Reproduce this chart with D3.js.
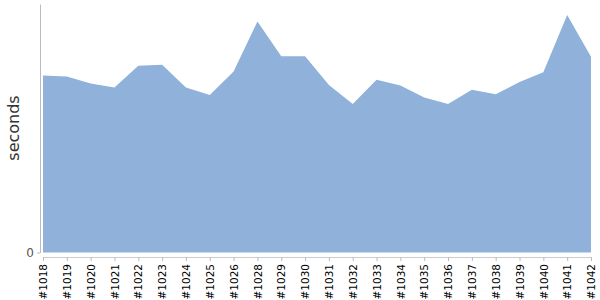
<!DOCTYPE html>
<html>
<head>
<meta charset="utf-8">
<script src="https://cdn.jsdelivr.net/npm/d3@7"></script>
<style>
  body { margin: 0; background: #fff; }
  svg text { font-family: "DejaVu Sans", Verdana, sans-serif; }
</style>
</head>
<body>
<div id="chart"></div>
<script>
var svgWidth = 600;
var svgHeight = 300;

// build labels along the x axis (#1027 is missing)
var builds = ["#1018", "#1019", "#1020", "#1021", "#1022", "#1023", "#1024", "#1025",
  "#1026", "#1028", "#1029", "#1030", "#1031", "#1032", "#1033", "#1034", "#1035",
  "#1036", "#1037", "#1038", "#1039", "#1040", "#1041", "#1042"];

// build duration
var seconds = [178, 177, 170, 166, 188, 189, 166, 158.5,
  182, 232.5, 197.5, 197.5, 168.5, 149.3, 173.7, 168, 156,
  149.3, 163.7, 159.3, 171.5, 181.3, 239, 197];

var yTicks = [0];

var margin = { top: 4, right: 9, bottom: 47.5, left: 43 };

var svg = d3.select("#chart")
  .append("svg")
  .attr("width", svgWidth)
  .attr("height", svgHeight);

var x = d3.scalePoint()
  .domain(builds)
  .range([margin.left, svgWidth - margin.right]);

var y = d3.scaleLinear()
  .domain([0, 250])
  .range([svgHeight - margin.bottom, margin.top]);

var data = builds.map((b, i) => ({ build: b, value: seconds[i] }));

// area
var area = d3.area()
  .x(d => x(d.build))
  .y0(y(0))
  .y1(d => y(d.value));

svg.append("path")
  .datum(data)
  .attr("d", area)
  .attr("fill", "#8fb1da");

// y axis
var yAxis = svg.append("g")
  .attr("transform", "translate(40,0)")
  .call(d3.axisLeft(y).tickValues(yTicks).tickSize(3).tickSizeOuter(0));

yAxis.select(".domain").attr("stroke", "#bbb");
yAxis.selectAll(".tick line").attr("stroke", "#bbb");
yAxis.selectAll(".tick text")
  .attr("x", -6)
  .attr("fill", "#555")
  .style("font-size", "12px");

// x axis
var xAxis = svg.append("g")
  .attr("transform", "translate(0,257)")
  .call(d3.axisBottom(x).tickSize(4).tickSizeOuter(0));

xAxis.select(".domain").attr("stroke", "#ccc");
xAxis.selectAll(".tick line").attr("stroke", "#bbb");
xAxis.selectAll(".tick text")
  .attr("transform", "rotate(-90)")
  .attr("x", -7)
  .attr("y", 0)
  .attr("dy", "0.35em")
  .style("text-anchor", "end")
  .style("font-size", "10.5px")
  .attr("fill", "#000");

// y axis label
svg.append("text")
  .attr("transform", "rotate(-90)")
  .attr("x", -128)
  .attr("y", 19)
  .style("text-anchor", "middle")
  .style("font-size", "16px")
  .attr("fill", "#333")
  .text("seconds");
</script>
</body>
</html>
